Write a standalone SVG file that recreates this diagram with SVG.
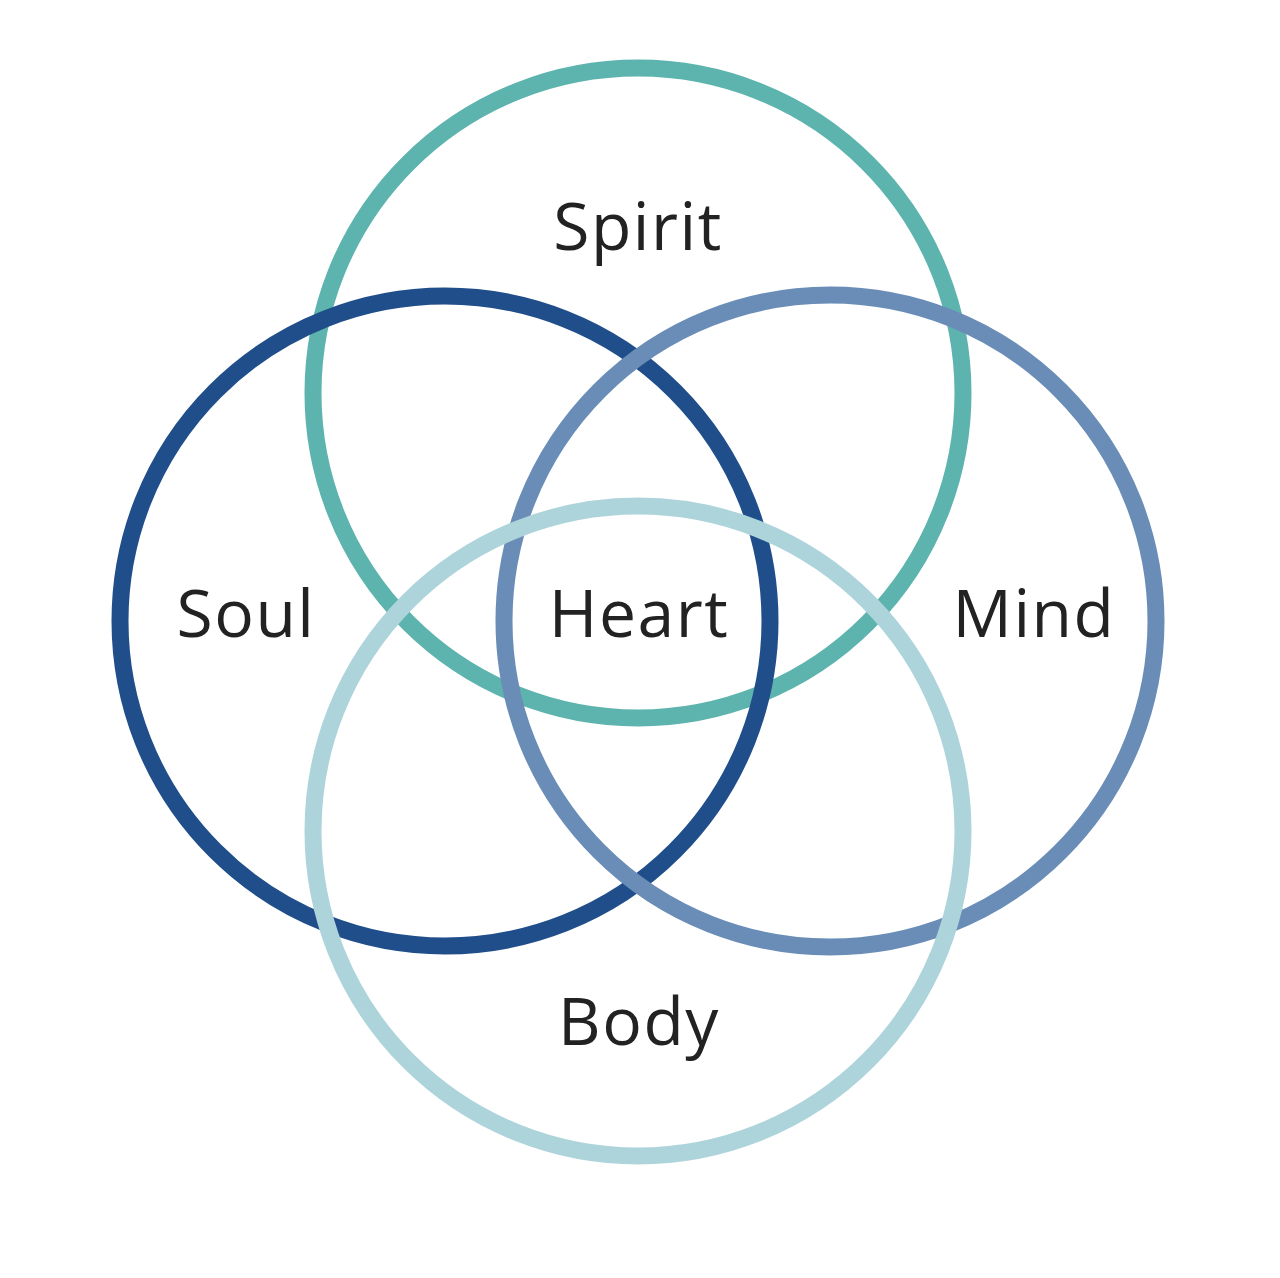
<svg xmlns="http://www.w3.org/2000/svg" width="1280" height="1278" viewBox="0 0 1280 1278">
<style>
.ring{fill:none;stroke-width:17}
.lbl{font-family:"Open Sans","Noto Sans",sans-serif;font-size:66px;letter-spacing:1.5px;fill:#222;text-anchor:middle}
</style>
<rect width="1280" height="1278" fill="#fff"/>
<g id="spirit"><circle class="ring" cx="638" cy="393" r="325" stroke="#5db3ad"/></g>
<g id="soul"><circle class="ring" cx="445" cy="621" r="325" stroke="#1f4e8a"/></g>
<g id="mind"><circle class="ring" cx="830" cy="621" r="326" stroke="#6a8db8"/></g>
<g id="body"><circle class="ring" cx="638" cy="831" r="325" stroke="#aed4db"/></g>
<g id="labels">
<text class="lbl" x="638" y="250">Spirit</text>
<text class="lbl" x="246" y="637">Soul</text>
<text class="lbl" x="639" y="637">Heart</text>
<text class="lbl" x="1034" y="637">Mind</text>
<text class="lbl" x="639" y="1045">Body</text>
</g>
</svg>
